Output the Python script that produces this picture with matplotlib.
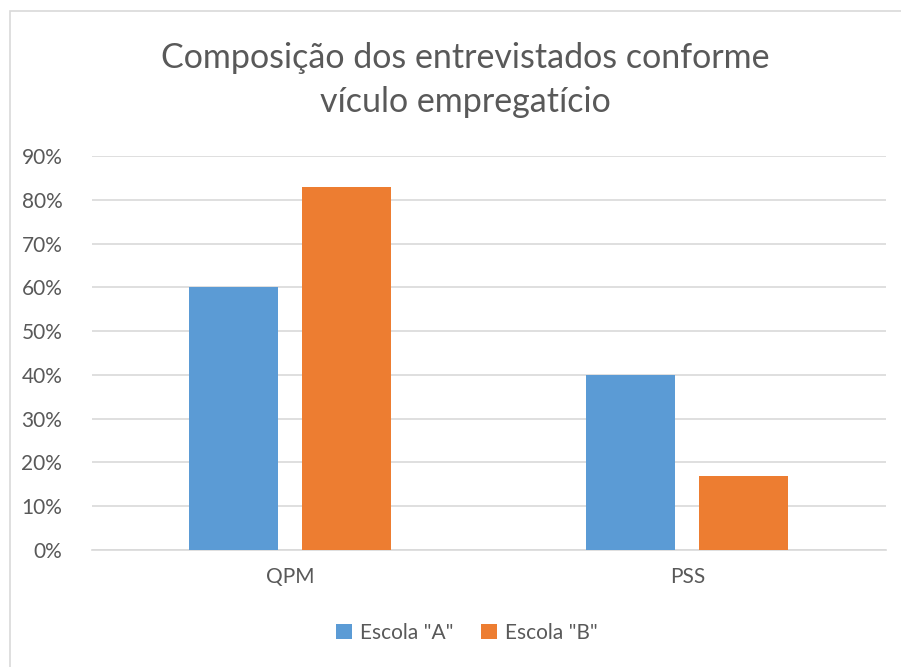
import matplotlib.pyplot as plt
from matplotlib.patches import Rectangle
from matplotlib.ticker import PercentFormatter
import numpy as np

categories = ['QPM', 'PSS']
escola_a = [60, 40]
escola_b = [83, 17]
series_names = ['Escola "A"', 'Escola "B"']
yticks = list(range(0, 100, 10))

plt.rcParams['font.family'] = ['Lato', 'DejaVu Sans']

W, H = 901, 667
fig = plt.figure(figsize=[W / 100, H / 100], dpi=100)

# chart area border (Excel style, cut at right/bottom)
fig.patches.append(Rectangle((10 / W, -0.1), 1.0, 1 - 11 / H + 0.1,
                             transform=fig.transFigure, fill=False,
                             edgecolor='#d9d9d9', linewidth=1.2))

ax = fig.add_axes([91.5 / W, 1 - 550 / H, (886 - 91.5) / W, (550 - 156) / H])

x = np.arange(len(categories))
w = 0.224
gap = 0.06
ax.bar(x - (w + gap) / 2, escola_a, w, color='#5b9bd5', label=series_names[0], zorder=3)
ax.bar(x + (w + gap) / 2, escola_b, w, color='#ed7d31', label=series_names[1], zorder=3)

ax.set_xlim(-0.5, 1.5)
ax.set_ylim(0, 90)
ax.set_yticks(yticks)
ax.yaxis.set_major_formatter(PercentFormatter(decimals=0))
ax.set_xticks(x)
ax.set_xticklabels(categories)
ax.grid(axis='y', color='#d9d9d9', linewidth=1.2, zorder=0)
for s in ['top', 'right', 'left']:
    ax.spines[s].set_visible(False)
ax.spines['bottom'].set_color('#d9d9d9')
ax.spines['bottom'].set_linewidth(1.2)
ax.tick_params(axis='both', length=0, labelsize=15, colors='#595959')
ax.tick_params(axis='y', pad=21)
ax.tick_params(axis='x', pad=12)

fig.text(465 / W, 1 - 58 / H, 'Composição dos entrevistados conforme',
         ha='center', va='center', fontsize=24.5, color='#595959')
fig.text(465 / W, 1 - 102 / H, 'vículo empregatício',
         ha='center', va='center', fontsize=24.5, color='#595959')

leg = fig.legend(loc='center', bbox_to_anchor=(467 / W, 1 - 633 / H), ncol=2,
                 frameon=False, fontsize=15, handlelength=0.75, handleheight=0.75,
                 columnspacing=1.3, handletextpad=0.4)
for t in leg.get_texts():
    t.set_color('#595959')

fig.savefig('out.png', dpi=100)
